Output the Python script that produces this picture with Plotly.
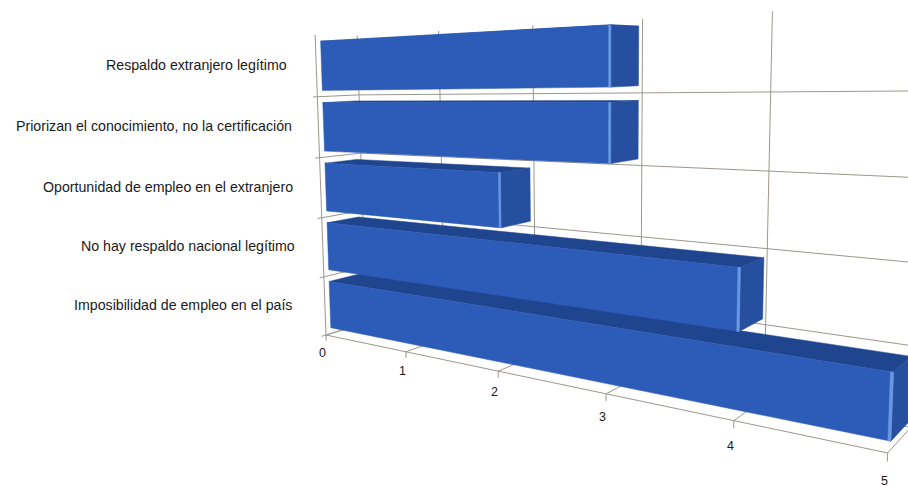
import plotly.graph_objects as go

# Chart data, listed from the lowest bar up to the highest
categories = [
    "Imposibilidad de empleo en el país",
    "No hay respaldo nacional legítimo",
    "Oportunidad de empleo en el extranjero",
    "Priorizan el conocimiento, no la certificación",
    "Respaldo extranjero legítimo",
]
values = [5, 4, 2, 3, 3]
value_ticks = [0, 1, 2, 3, 4, 5]

# Box proportions in chart units
BAR_BOTTOM, BAR_TOP = 0.1, 0.9
BAR_FRONT, BAR_BACK = 0.12, 0.89
HIGHLIGHT = 0.018

# Colours
FRONT = "#2c5cb8"
SIDE = "#274f9f"
TOP = "#1f458f"
EDGE = "#6a98e0"
GRID = "#9c978e"
TEXT = "#1a1a1a"

# Perspective matrix: value, depth and category axes to page pixels
P = [
    [52.5, 56.7, -4.58, 326.0],
    [-6.94, 2.5, -60.3, 335.0],
    [-0.0674, 0.0454, -0.00763, 1.0],
]


def project(v, d, z):
    w = P[2][0] * v + P[2][1] * d + P[2][2] * z + P[2][3]
    x = (P[0][0] * v + P[0][1] * d + P[0][2] * z + P[0][3]) / w
    y = (P[1][0] * v + P[1][1] * d + P[1][2] * z + P[1][3]) / w
    return x, y


def segments(pairs):
    xs, ys = [], []
    for a, b in pairs:
        xa, ya = project(*a)
        xb, yb = project(*b)
        xs += [xa, xb, None]
        ys += [ya, yb, None]
    return xs, ys


def face(points, color):
    pts = [project(*p) for p in points]
    xs = [p[0] for p in pts] + [pts[0][0]]
    ys = [p[1] for p in pts] + [pts[0][1]]
    return go.Scatter(
        x=xs, y=ys, mode="lines", fill="toself", fillcolor=color,
        line=dict(color=color, width=0.5), hoverinfo="skip",
    )


n = len(categories)
vmax = value_ticks[-1]
fig = go.Figure()

# Walls and floor grid
pairs = []
for v in value_ticks:
    pairs.append(((v, 1, 0), (v, 1, n)))      # back wall verticals
    pairs.append(((v, 0, 0), (v, 1, 0)))      # floor depth lines
    pairs.append(((v, 0, -0.1), (v, 0, 0)))   # value ticks
for k in range(n):
    pairs.append(((0, 1, k), (vmax, 1, k)))   # back wall horizontals
    pairs.append(((0, 0, k), (0, 1, k)))      # side wall depth lines
    pairs.append(((0, -0.1, k), (0, 0, k)))   # category ticks
pairs.append(((0, 0, 0), (0, 0, n)))          # category axis
pairs.append(((0, 0, 0), (vmax, 0, 0)))       # value axis
gx, gy = segments(pairs)
fig.add_trace(go.Scatter(x=gx, y=gy, mode="lines",
                         line=dict(color=GRID, width=1), hoverinfo="skip"))

# Bars, bottom one first so that each higher bar sits over the one below
for k, val in enumerate(values):
    z0, z1 = k + BAR_BOTTOM, k + BAR_TOP
    d0, d1 = BAR_FRONT, BAR_BACK
    fig.add_trace(face([(0, d0, z1), (val, d0, z1), (val, d1, z1), (0, d1, z1)], TOP))
    fig.add_trace(face([(val, d0, z0), (val, d1, z0), (val, d1, z1), (val, d0, z1)], SIDE))
    fig.add_trace(face([(0, d0, z0), (val, d0, z0), (val, d0, z1), (0, d0, z1)], FRONT))
    fig.add_trace(face([(val - HIGHLIGHT, d0, z0), (val, d0, z0),
                        (val, d0, z1), (val - HIGHLIGHT, d0, z1)], EDGE))

# Text labels
annotations = []
for v in value_ticks:
    x, y = project(v, -0.12, -0.285)
    annotations.append(dict(x=x + 1, y=y, text=str(v), xref="x", yref="y", showarrow=False,
                            xanchor="center", yanchor="middle",
                            font=dict(family="Liberation Sans", size=12.5, color=TEXT)))
label_gap = [31, 26, 26, 24, 27]
for k, name in enumerate(categories):
    x, y = project(0, 0, k + 0.5)
    annotations.append(dict(x=x - label_gap[k], y=y - 1, text=name, xref="x", yref="y",
                            showarrow=False, xanchor="right", yanchor="middle",
                            font=dict(family="Liberation Sans", size=14.2, color=TEXT)))

fig.update_layout(
    width=908, height=487,
    margin=dict(l=0, r=0, t=0, b=0),
    paper_bgcolor="white", plot_bgcolor="white",
    showlegend=False,
    xaxis=dict(range=[0, 908], visible=False, fixedrange=True),
    yaxis=dict(range=[487, 0], visible=False, fixedrange=True),
    annotations=annotations,
)

fig.write_html("out.html", config={"displayModeBar": False})
